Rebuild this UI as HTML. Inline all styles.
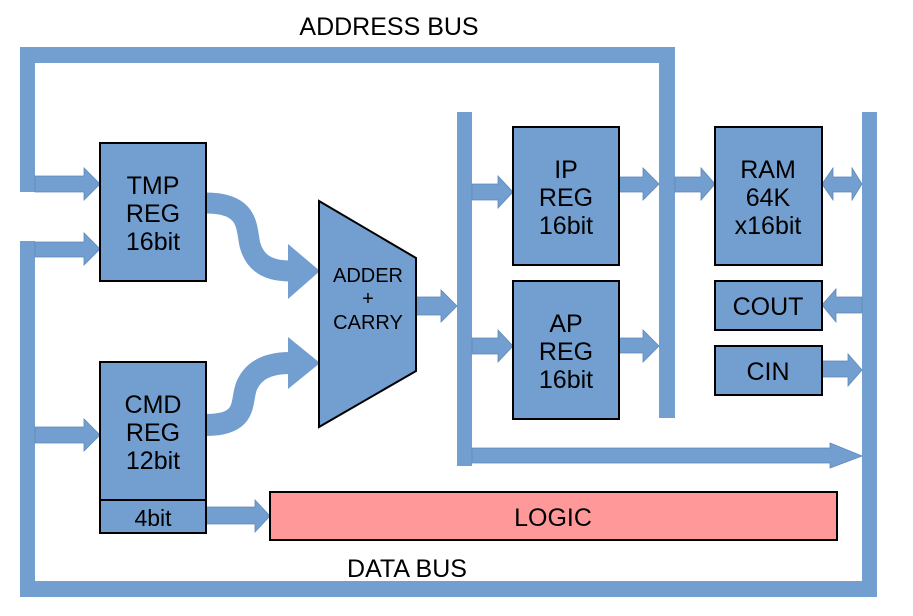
<!DOCTYPE html>
<html><head><meta charset="utf-8"><style>
html,body{margin:0;padding:0;background:#fff;}
svg{display:block;}
text{font-family:"Liberation Sans",Arial,sans-serif;fill:#000;}
</style></head><body>
<svg width="913" height="616" viewBox="0 0 913 616" xmlns="http://www.w3.org/2000/svg">
<g fill="#729fcf">
<rect x="20" y="47" width="655" height="16"/>
<rect x="20" y="47" width="15" height="145"/>
<rect x="659" y="47" width="16" height="371"/>
<rect x="20" y="241" width="15" height="356"/>
<rect x="20" y="581" width="857" height="16"/>
<rect x="862" y="112" width="15" height="485"/>
<rect x="457" y="112" width="15" height="354"/>
</g>
<g fill="#729fcf" stroke="#5f89b8" stroke-width="0.8">
<polygon points="35,176 84,176 84,168 100,184 84,200 84,192 35,192"/>
<polygon points="35,242 84,242 84,233 100,249 84,265 84,257 35,257"/>
<polygon points="35,427 84,427 84,419 100,435 84,451 84,443 35,443"/>
<polygon points="206,507 255,507 255,500 270,516 255,532 255,524 206,524"/>
<polygon points="416,297 441,297 441,290 457,306 441,322 441,315 416,315"/>
<polygon points="472,184 498,184 498,176 513,192 498,208 498,200 472,200"/>
<polygon points="472,338 498,338 498,330 513,346 498,362 498,354 472,354"/>
<polygon points="619,177 643,177 643,168 659,184 643,200 643,192 619,192"/>
<polygon points="619,338 643,338 643,330 659,346 643,362 643,353 619,353"/>
<polygon points="675,177 701,177 701,168 715,184 701,200 701,192 675,192"/>
<polygon points="822,184 833,168 833,177 852,177 852,168 862,184 852,200 852,192 833,192 833,200"/>
<polygon points="862,297 836,297 836,289 822,305 836,322 836,313 862,313"/>
<polygon points="822,361 848,361 848,354 862,370 848,386 848,377 822,377"/>
<polygon points="472,448 830,448 830,443 862,456 830,468 830,463 472,463"/>
</g>
<path d="M206,203 C250,203 246,228 250,245 C255,263 268,271 290,271" fill="none" stroke="#729fcf" stroke-width="21"/>
<polygon points="288,244 320,271 288,299" fill="#729fcf"/>
<path d="M206,425 C250,425 240,400 247,385 C254,370 268,363 290,363" fill="none" stroke="#729fcf" stroke-width="22"/>
<polygon points="288,337 320,363 288,389" fill="#729fcf"/>
<g fill="#729fcf" stroke="#000" stroke-width="2">
<rect x="100" y="143" width="106" height="138"/>
<rect x="100" y="362" width="106" height="138"/>
<rect x="100" y="500" width="106" height="33"/>
<polygon points="319,201 416,258 416,371 319,427"/>
<rect x="513" y="127" width="106" height="138"/>
<rect x="513" y="281" width="106" height="138"/>
<rect x="715" y="127" width="107" height="138"/>
<rect x="715" y="281" width="107" height="49"/>
<rect x="715" y="346" width="107" height="49"/>
</g>
<rect x="270" y="492" width="567" height="48" fill="#ff9999" stroke="#000" stroke-width="2"/>
<g font-size="25" text-anchor="middle">
<text x="389" y="35">ADDRESS BUS</text>
<text x="407" y="577">DATA BUS</text>
<text x="153" y="194">TMP</text><text x="153" y="222">REG</text><text x="153" y="250">16bit</text>
<text x="153" y="413">CMD</text><text x="153" y="441">REG</text><text x="153" y="469">12bit</text>
<text x="153" y="526" font-size="23">4bit</text>
<text x="566" y="178">IP</text><text x="566" y="206">REG</text><text x="566" y="234">16bit</text>
<text x="566" y="332">AP</text><text x="566" y="360">REG</text><text x="566" y="388">16bit</text>
<text x="768" y="178">RAM</text><text x="768" y="206">64K</text><text x="768" y="234">x16bit</text>
<text x="768" y="315">COUT</text>
<text x="768" y="380">CIN</text>
<text x="553" y="526">LOGIC</text>
</g>
<g font-size="20" text-anchor="middle">
<text x="368" y="282">ADDER</text><text x="368" y="305">+</text><text x="368" y="329">CARRY</text>
</g>
</svg>
</body></html>
